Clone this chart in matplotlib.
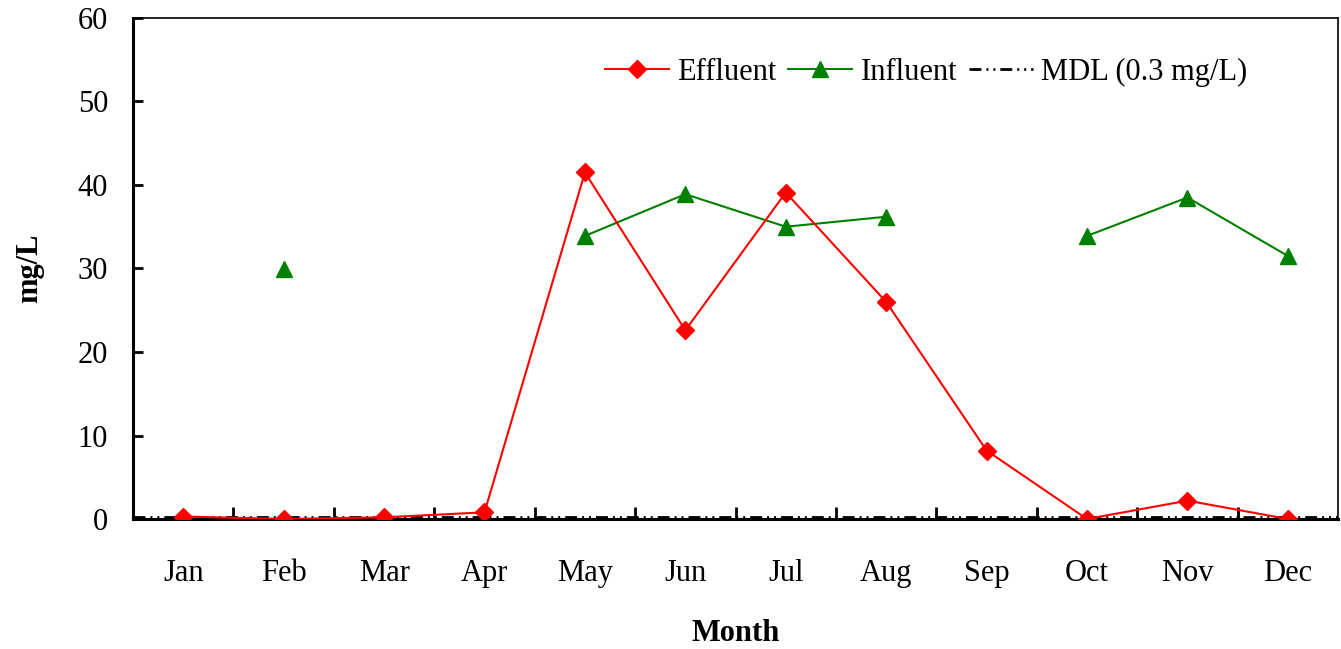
import numpy as np
import matplotlib
matplotlib.use("Agg")
import matplotlib.pyplot as plt
from matplotlib.ticker import FixedLocator, NullFormatter

plt.rcParams['font.family'] = ['Liberation Serif', 'DejaVu Serif']

months = ["Jan", "Feb", "Mar", "Apr", "May", "Jun",
          "Jul", "Aug", "Sep", "Oct", "Nov", "Dec"]
effluent = [0.3, 0.0, 0.2, 0.8, 41.5, 22.6, 39.1, 26.0, 8.2, 0.0, 2.2, 0.0]
influent = [np.nan, 29.9, np.nan, np.nan, 33.9, 38.9, 35.0, 36.2,
            np.nan, 33.9, 38.5, 31.5]
mdl = 0.3

fig = plt.figure(figsize=(13.41, 6.49), dpi=100)
ax = fig.add_axes([0.0992, 0.2003, 0.8986, 0.7720])

x = np.arange(len(months))
ax.plot(x, effluent, color="#ff0000", lw=1.5, marker="D", ms=9,
        label="Effluent", zorder=4)
ax.plot(x, influent, color="#008000", lw=1.5, marker="^", ms=11,
        label="Influent", zorder=3)
ax.axhline(mdl, color="black", lw=2.0, dashes=(4.3, 1.8, 0.7, 1.8, 0.7, 1.8),
           label="MDL (0.3 mg/L)", zorder=2)

ax.set_xlim(-0.5, len(months) - 0.5)
ax.set_ylim(0, 60)
ax.set_yticks(np.arange(0, 61, 10))
ax.set_xticks(x)
ax.set_xticklabels(months)
ax.xaxis.set_minor_locator(FixedLocator(np.arange(0.5, len(months) - 0.5, 1)))
ax.xaxis.set_minor_formatter(NullFormatter())

ax.tick_params(axis="y", direction="in", length=7, width=2, labelsize=22, pad=18)
ax.tick_params(axis="x", which="major", length=0, labelsize=22, pad=29)
ax.tick_params(axis="x", which="minor", direction="in", length=9, width=2)

for side in ["left", "bottom"]:
    ax.spines[side].set_linewidth(2.2)
for side in ["top", "right"]:
    ax.spines[side].set_linewidth(1.2)

ax.set_xlabel("Month", fontsize=22, fontweight="bold", labelpad=22)
ax.set_ylabel("mg/L", fontsize=22, fontweight="bold", labelpad=24)

leg = ax.legend(loc="upper right", bbox_to_anchor=(0.935, 0.945), ncol=3,
                frameon=False, fontsize=22, handlelength=2.1,
                columnspacing=0.4, handletextpad=0.26, borderaxespad=0)

fig.savefig("out.png", dpi=100)
